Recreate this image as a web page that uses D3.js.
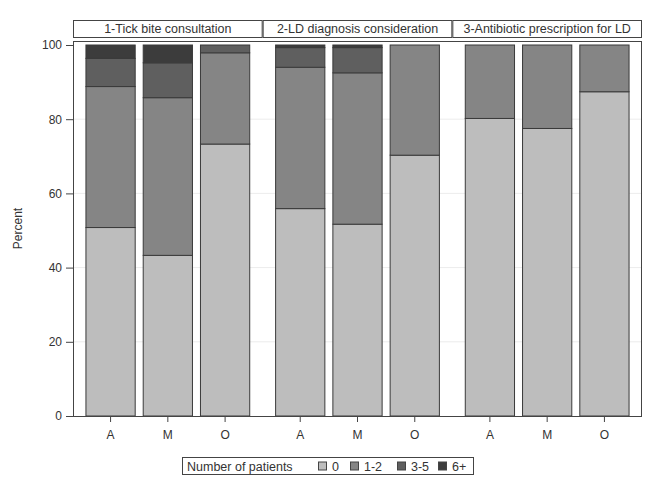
<!DOCTYPE html>
<html>
<head>
<meta charset="utf-8">
<script src="https://cdn.jsdelivr.net/npm/d3@7"></script>
<style>
  body { margin: 0; background: #fff; }
  text { font-family: "Liberation Sans", Arial, sans-serif; fill: #333; }
</style>
</head>
<body>
<div id="chart"></div>
<script>
// panels, groups, categories
var panels = ["1-Tick bite consultation", "2-LD diagnosis consideration", "3-Antibiotic prescription for LD"];
var groups = ["A", "M", "O"];
var categories = ["0", "1-2", "3-5", "6+"];
var colors = ["#bdbdbd", "#858585", "#5f5f5f", "#3c3c3c"];

// percent per category, one row per group, in panel order
var panel1 = [[50.8, 38.0, 7.6, 3.6], [43.3, 42.5, 9.4, 4.8], [73.3, 24.6, 2.1, 0]];
var panel2 = [[55.9, 38.1, 5.3, 0.7], [51.7, 40.8, 6.8, 0.7], [70.3, 29.7, 0, 0]];
var panel3 = [[80.2, 19.8, 0, 0], [77.5, 22.5, 0, 0], [87.4, 12.6, 0, 0]];
var panelValues = [panel1, panel2, panel3];

var yTicks = [0, 20, 40, 60, 80, 100];

var width = 658, height = 500;
var margin = {top: 41, right: 16, bottom: 84, left: 73};
var plotW = width - margin.left - margin.right;
var plotH = height - margin.top - margin.bottom;

var svg = d3.select("#chart").append("svg")
    .attr("width", width)
    .attr("height", height);

var g = svg.append("g")
    .attr("transform", "translate(" + margin.left + "," + margin.top + ")");

var y = d3.scaleLinear().domain([0, 100]).range([plotH, 4]);

var px = d3.scaleBand().domain(panels).range([0, plotW]);
var x = d3.scaleBand().domain(groups).range([0, px.bandwidth()])
    .paddingInner(0.14).paddingOuter(0.226);

// grid
g.selectAll(".grid").data(yTicks.filter(function(d){ return d > 0 && d < 100 }))
  .enter().append("line")
  .attr("x1", 0).attr("x2", plotW)
  .attr("y1", function(d){ return y(d) }).attr("y2", function(d){ return y(d) })
  .attr("stroke", "#ececec");

var stack = d3.stack().keys(d3.range(categories.length));

panels.forEach(function(p, i){
  var pg = g.append("g").attr("transform", "translate(" + px(p) + ",0)");

  // strip header
  svg.append("rect")
    .attr("x", margin.left + px(p) + 0.5).attr("y", 20.5)
    .attr("width", px.bandwidth() - 1).attr("height", 17)
    .attr("fill", "#fff").attr("stroke", "#444");
  svg.append("text")
    .attr("x", margin.left + px(p) + px.bandwidth() / 2).attr("y", 33)
    .attr("text-anchor", "middle").style("font-size", "12.5px")
    .text(p);

  var series = stack(panelValues[i]);
  series.forEach(function(s, k){
    pg.selectAll(".bar" + k).data(s).enter().append("rect")
      .attr("x", function(d, j){ return x(groups[j]) })
      .attr("width", x.bandwidth())
      .attr("y", function(d){ return y(d[1]) })
      .attr("height", function(d){ return y(d[0]) - y(d[1]) })
      .attr("fill", colors[k])
      .attr("stroke", "#3a3a3a")
      .attr("stroke-width", function(d){ return d[1] - d[0] > 0 ? 1 : 0 });
  });

  // x axis
  pg.append("g")
    .attr("transform", "translate(0," + plotH + ")")
    .call(d3.axisBottom(x).tickSize(6).tickPadding(8).tickSizeOuter(0))
    .call(function(a){
      a.select(".domain").remove();
      a.selectAll("line").attr("stroke", "#444");
      a.selectAll("text").style("font-size", "12px").attr("fill", "#333");
    });
});

// frame
g.append("rect")
  .attr("x", 0.5).attr("y", 0.5)
  .attr("width", plotW - 1).attr("height", plotH)
  .attr("fill", "none").attr("stroke", "#444");

// y axis
g.append("g")
  .call(d3.axisLeft(y).tickValues(yTicks).tickSize(7).tickPadding(4))
  .call(function(a){
    a.select(".domain").remove();
    a.selectAll("line").attr("stroke", "#444");
    a.selectAll("text").style("font-size", "12px").attr("fill", "#333");
  });

svg.append("text")
  .attr("transform", "translate(22," + (margin.top + plotH / 2) + ") rotate(-90)")
  .attr("text-anchor", "middle").style("font-size", "12px")
  .text("Percent");

// legend
var leg = svg.append("g").attr("transform", "translate(182,457)");
leg.append("rect").attr("x", 0.5).attr("y", 0.5).attr("width", 291).attr("height", 17)
  .attr("fill", "#fff").attr("stroke", "#444");
leg.append("text").attr("x", 5).attr("y", 13.5).style("font-size", "12.5px").text("Number of patients");
var lx = [136, 168, 215, 256];
categories.forEach(function(c, k){
  leg.append("rect").attr("x", lx[k] + 0.5).attr("y", 5).attr("width", 8).attr("height", 8)
    .attr("fill", colors[k]).attr("stroke", "#444");
  leg.append("text").attr("x", lx[k] + 14).attr("y", 13.5).style("font-size", "12.5px").text(c);
});
</script>
</body>
</html>
